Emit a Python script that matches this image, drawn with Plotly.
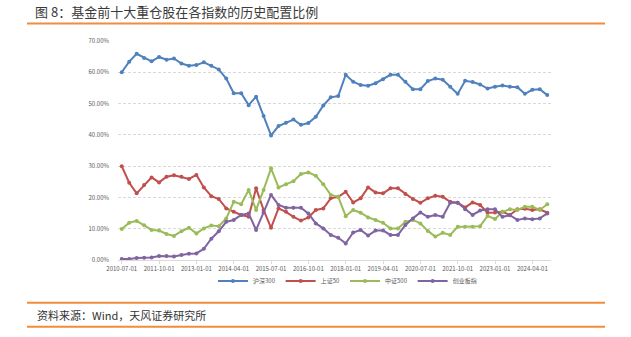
import plotly.graph_objects as go

# Quarterly categories 2010-07-01 .. 2024-10-01
dates = [f"{y}-{m:02d}-01" for y in range(2010, 2025) for m in (1, 4, 7, 10)][2:]
tick_labels = dates[::5]

names = ["沪深300", "上证50", "中证500", "创业板指"]
colors = ["#4F81BD", "#C0504D", "#9BBB59", "#8064A2"]

hs300 = [60.0, 63.4, 65.9, 64.6, 63.5, 64.9, 64.0, 64.4, 62.8, 62.1,
         62.3, 63.2, 62.1, 60.9, 58.0, 53.3, 53.3, 49.5, 52.2, 46.0,
         39.8, 42.8, 43.9, 44.9, 43.2, 43.8, 45.8, 49.4, 52.0, 52.4,
         59.2, 57.0, 55.9, 55.7, 56.5, 57.8, 59.2, 59.2, 57.0, 54.6,
         54.6, 57.2, 58.0, 57.6, 55.4, 53.1, 57.3, 56.9, 56.1, 54.8,
         55.4, 55.8, 55.4, 55.2, 53.1, 54.4, 54.6, 52.7]
sz50 = [30.0, 24.7, 21.3, 24.0, 26.4, 24.8, 26.6, 27.1, 26.6, 25.9,
        27.2, 23.2, 20.4, 19.5, 16.5, 15.4, 14.4, 13.8, 22.9, 16.0,
        10.3, 16.5, 15.4, 13.8, 12.6, 13.6, 16.0, 16.5, 19.7, 20.2,
        21.8, 18.4, 19.7, 23.2, 21.6, 21.3, 22.9, 22.9, 21.1, 19.5,
        18.3, 19.7, 20.5, 20.2, 18.6, 18.3, 16.8, 18.4, 17.6, 15.1,
        15.2, 15.4, 14.4, 16.2, 16.4, 16.0, 16.2, 15.1]
zz500 = [9.9, 11.9, 12.5, 11.1, 9.6, 9.4, 8.3, 7.7, 9.2, 10.3,
         8.5, 10.1, 11.0, 10.8, 13.3, 18.6, 17.8, 22.4, 16.0, 22.4,
         29.3, 23.2, 24.2, 25.2, 27.5, 28.0, 26.9, 24.2, 20.8, 20.2,
         14.0, 16.0, 15.1, 13.6, 12.8, 11.9, 10.1, 10.1, 12.2, 12.8,
         11.7, 9.3, 7.5, 8.7, 8.0, 10.6, 10.6, 10.6, 10.8, 14.1,
         13.1, 15.4, 16.2, 16.0, 17.0, 17.0, 16.0, 17.8]
cyb = [0.3, 0.3, 0.6, 0.7, 0.8, 1.3, 1.3, 1.1, 1.6, 2.0,
       2.1, 3.6, 6.8, 9.2, 12.2, 12.8, 14.4, 14.9, 9.6, 15.2,
       20.8, 17.6, 16.7, 16.7, 16.7, 14.9, 11.7, 10.1, 8.0, 7.1,
       5.3, 8.8, 9.6, 7.8, 9.4, 9.4, 8.0, 8.0, 11.2, 13.3,
       15.2, 13.8, 14.4, 13.8, 18.3, 18.3, 16.2, 14.4, 15.8, 16.2,
       16.2, 13.8, 14.3, 12.8, 13.3, 13.0, 13.3, 14.9]

series = [hs300, sz50, zz500, cyb]

FONT = "Noto Sans CJK SC"
fig = go.Figure()
for name, col, vals in zip(names, colors, series):
    fig.add_trace(go.Scatter(
        x=dates, y=vals, name=name, mode="lines+markers",
        line=dict(color=col, width=2),
        marker=dict(color=col, size=4, symbol="circle"),
        cliponaxis=False,
    ))

fig.update_layout(
    width=631, height=337,
    margin=dict(l=118, r=80, t=41, b=77),
    paper_bgcolor="white", plot_bgcolor="white",
    font=dict(family=FONT, color="#595959", size=6),
    title=dict(
        text="图 8：基金前十大重仓股在各指数的历史配置比例",
        x=35 / 631, xanchor="left", xref="container",
        y=1 - 12 / 337, yanchor="middle", yref="container",
        font=dict(family=FONT, size=13, color="#3a3a3a"),
    ),
    showlegend=True,
    legend=dict(
        orientation="h", x=0.53, xanchor="center",
        y=-0.096, yanchor="middle",
        font=dict(family=FONT, size=6, color="#595959"),
        itemwidth=30, bgcolor="rgba(0,0,0,0)",
        tracegroupgap=0,
    ),
)

fig.update_xaxes(
    type="category", categoryorder="array", categoryarray=dates,
    range=[-0.5, len(dates) - 0.5],
    tickmode="array", tickvals=tick_labels, ticktext=tick_labels,
    tickangle=0,
    showgrid=False, showline=True, linecolor="#D9D9D9", linewidth=1,
    ticks="outside", ticklen=3, tickcolor="#D9D9D9",
    tickfont=dict(size=6, color="#595959"),
)
fig.update_yaxes(
    range=[0, 70], dtick=10, tickformat=".2f", ticksuffix="%",
    showgrid=True, gridcolor="#D9D9D9", griddash="3px,2px", gridwidth=1,
    zeroline=False, showline=False,
    ticklabelstandoff=8,
    tickfont=dict(size=6, color="#595959"),
)

# decorative orange rules and source note
orange = "#F08C3C"
for yy in [(260 - 23.5) / 219, (260 - 302.7) / 219, (260 - 326.7) / 219]:
    fig.add_shape(type="line", xref="paper", yref="paper",
                  x0=(27 - 118) / 433, x1=(605 - 118) / 433, y0=yy, y1=yy,
                  line=dict(color=orange, width=2))

fig.add_annotation(
    text="资料来源：Wind，天风证券研究所",
    xref="paper", yref="paper",
    x=(35 - 118) / 433, y=(260 - 315) / 219,
    xanchor="left", yanchor="middle", showarrow=False,
    font=dict(family=FONT, size=11, color="#333333"),
)

fig.write_html("out.html")
